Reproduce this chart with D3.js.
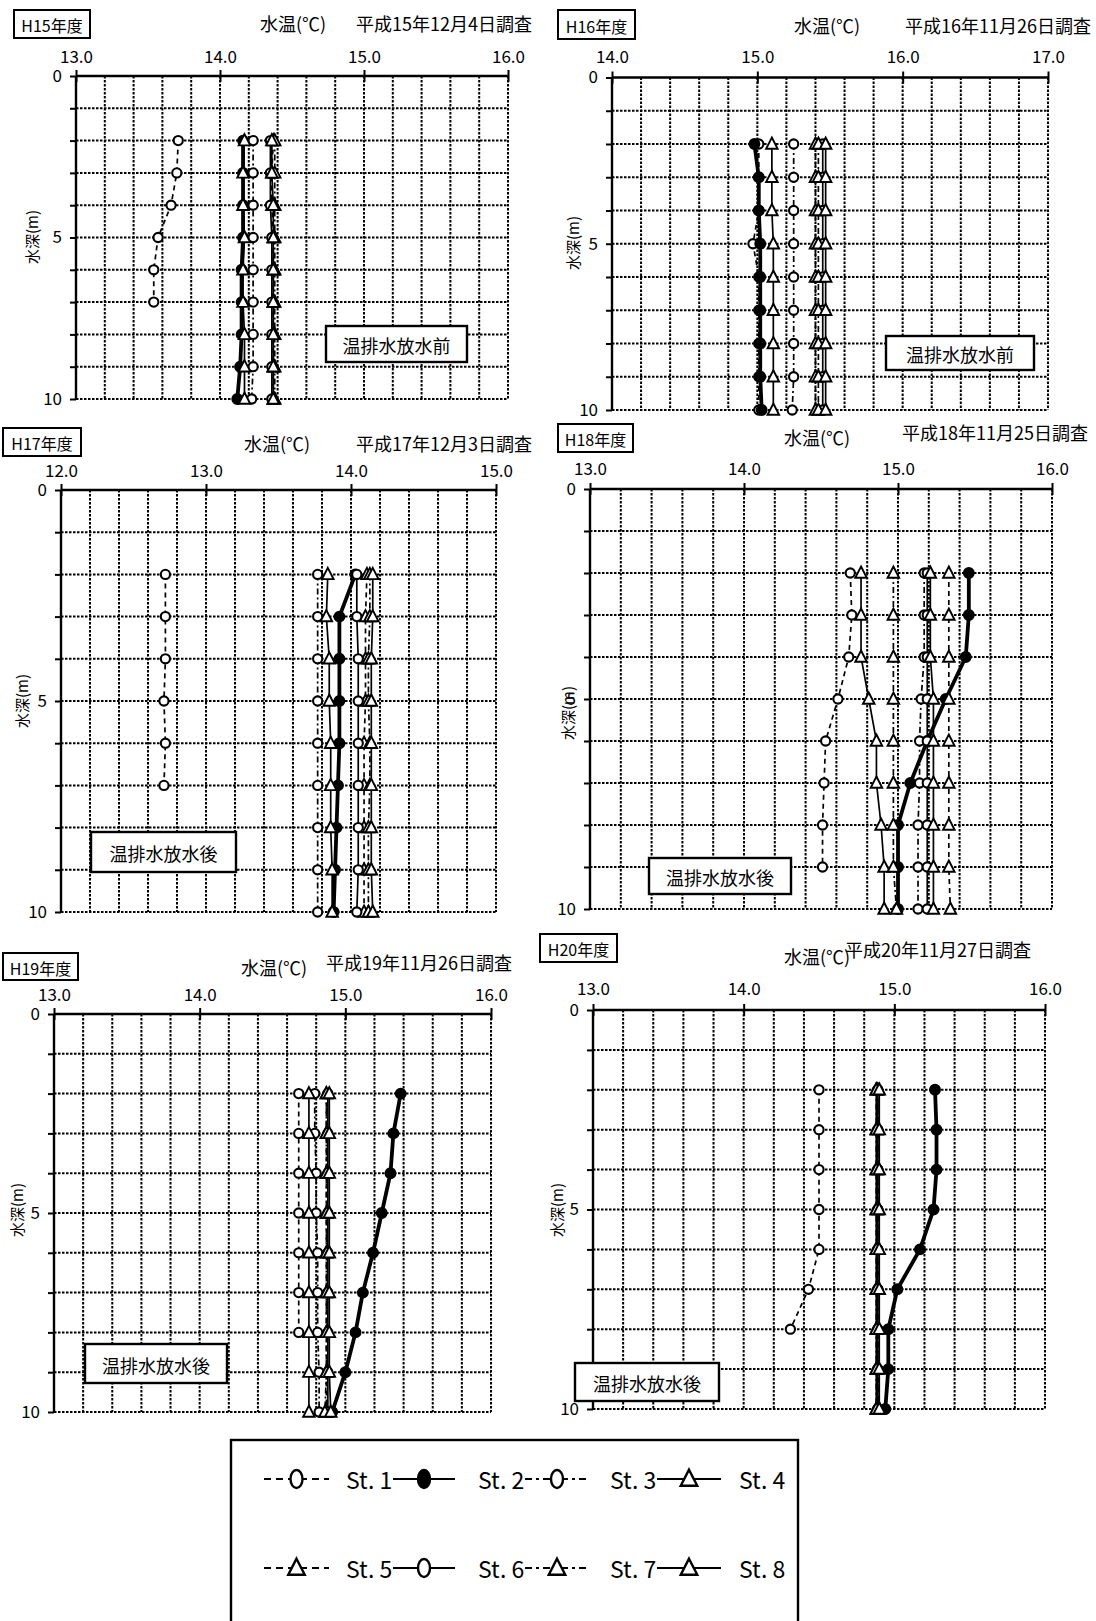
<!DOCTYPE html>
<html><head><meta charset="utf-8">
<script src="https://cdn.jsdelivr.net/npm/d3@7"></script>
<style>
body{margin:0;background:#fff;}
svg{display:block;}
text{font-family:"Noto Sans CJK JP","Noto Sans",sans-serif;fill:#000;}
</style></head><body>
<svg id="c" width="1096" height="1621"></svg>
<script>
// ---------------- data ----------------
const stationNames = ["St. 1","St. 2","St. 3","St. 4","St. 5","St. 6","St. 7","St. 8"];
const depthLevels = [2,3,4,5,6,7,8,9,10];           // m
const depthTicks = [0,5,10];
const yearLabels = ["H15年度","H16年度","H17年度","H18年度","H19年度","H20年度"];
const surveyDates = ["平成15年12月4日調査","平成16年11月26日調査","平成17年12月3日調査",
                     "平成18年11月25日調査","平成19年11月26日調査","平成20年11月27日調査"];
const noteLabels = ["温排水放水前","温排水放水前","温排水放水後","温排水放水後","温排水放水後","温排水放水後"];
const tempMin = [13,14,12,13,13,13];   // x-axis start (°C); each axis spans 3.0 °C
const axisTitle = "水温(℃)";
const depthTitle = "水深(m)";

// water temperature (°C) per station, from depth 2 m downward
const H15 = [
  [13.71,13.70,13.66,13.57,13.54,13.54],
  [14.16,14.16,14.16,14.16,14.15,14.15,14.15,14.14,14.12],
  [14.23,14.23,14.23,14.23,14.23,14.23,14.23,14.23,14.22],
  [14.17,14.16,14.16,14.17,14.16,14.16,14.17,14.17,14.17],
  [14.37,14.36,14.36,14.37,14.37,14.37,14.37,14.37,14.37],
  [14.35,14.35,14.35,14.36,14.36,14.36,14.36,14.36,14.36],
  [14.38,14.38,14.38,14.38,14.38,14.38,14.38,14.38,14.38],
  [14.36,14.36,14.37,14.37,14.37,14.37,14.37,14.37,14.37]
];
const H16 = [
  [15.01,15.01,15.01,14.97,15.01,15.01,15.01,15.01,15.01],
  [14.98,15.01,15.01,15.02,15.02,15.02,15.02,15.02,15.03],
  [15.25,15.25,15.25,15.25,15.25,15.25,15.25,15.25,15.24],
  [15.10,15.10,15.10,15.11,15.11,15.11,15.11,15.11,15.11],
  [15.40,15.40,15.40,15.40,15.40,15.40,15.40,15.40,15.40],
  [15.45,15.45,15.45,15.45,15.45,15.45,15.45,15.45,15.45],
  [15.42,15.42,15.42,15.42,15.42,15.42,15.42,15.42,15.42],
  [15.47,15.47,15.47,15.47,15.47,15.47,15.47,15.47,15.47]
];
const H17 = [
  [12.72,12.72,12.72,12.71,12.72,12.71],
  [14.03,13.92,13.92,13.92,13.92,13.91,13.90,13.89,13.88],
  [13.77,13.77,13.77,13.77,13.77,13.77,13.77,13.77,13.77],
  [13.84,13.83,13.85,13.85,13.86,13.86,13.86,13.87,13.87],
  [14.11,14.10,14.10,14.10,14.09,14.09,14.09,14.09,14.09],
  [14.04,14.04,14.05,14.05,14.05,14.05,14.05,14.05,14.04],
  [14.13,14.13,14.12,14.12,14.13,14.13,14.12,14.12,14.12],
  [14.15,14.15,14.14,14.14,14.14,14.14,14.14,14.14,14.15]
];
const H18 = [
  [14.69,14.70,14.68,14.61,14.53,14.52,14.51,14.51],
  [15.46,15.46,15.44,15.31,15.19,15.08,15.00,15.00,15.00],
  [15.17,15.17,15.17,15.15,15.14,15.14,15.13,15.13,15.13],
  [14.76,14.76,14.76,14.81,14.86,14.86,14.89,14.91,14.91],
  [15.33,15.33,15.33,15.33,15.33,15.33,15.33,15.33,15.34],
  [15.19,15.19,15.19,15.19,15.19,15.19,15.19,15.19,15.19],
  [14.97,14.97,14.97,14.97,14.97,14.97,14.97,14.97,14.99],
  [15.21,15.21,15.21,15.23,15.23,15.23,15.23,15.23,15.23]
];
const H19 = [
  [14.68,14.68,14.68,14.68,14.68,14.68,14.68],
  [15.38,15.33,15.31,15.25,15.19,15.12,15.07,15.00,14.91],
  [14.79,14.79,14.80,14.80,14.81,14.81,14.81,14.82,14.82],
  [14.75,14.75,14.75,14.75,14.75,14.75,14.75,14.75,14.75],
  [14.87,14.87,14.87,14.87,14.87,14.87,14.87,14.87,14.87],
  [14.88,14.88,14.88,14.88,14.88,14.88,14.88,14.88,14.88],
  [14.87,14.87,14.87,14.87,14.87,14.87,14.87,14.87,14.86],
  [14.89,14.89,14.89,14.89,14.89,14.89,14.89,14.89,14.90]
];
const H20 = [
  [14.50,14.50,14.50,14.50,14.50,14.43,14.31],
  [15.27,15.28,15.28,15.26,15.17,15.02,14.96,14.96,14.94],
  [14.89,14.89,14.89,14.89,14.89,14.89,14.89,14.89,14.89],
  [14.88,14.88,14.88,14.88,14.88,14.88,14.88,14.88,14.88],
  [14.89,14.89,14.89,14.89,14.89,14.89,14.89,14.89,14.90],
  [14.89,14.89,14.89,14.89,14.89,14.89,14.89,14.89,14.89],
  [14.88,14.88,14.88,14.88,14.88,14.88,14.88,14.88,14.88],
  [14.90,14.90,14.90,14.90,14.90,14.90,14.90,14.90,14.90]
];
const panelData = [H15,H16,H17,H18,H19,H20];

// ---------------- styles (not data) ----------------
const stationStyle = [
  {marker:"circle",   fill:"#fff", width:1.7, dash:"5,4"},
  {marker:"circle",   fill:"#000", width:3.8, dash:null},
  {marker:"circle",   fill:"#fff", width:1.7, dash:"6,3,2,3"},
  {marker:"triangle", fill:"#fff", width:1.7, dash:null},
  {marker:"triangle", fill:"#fff", width:1.7, dash:"5,4"},
  {marker:"circle",   fill:"#fff", width:1.7, dash:null},
  {marker:"triangle", fill:"#fff", width:1.7, dash:"6,3,2,3"},
  {marker:"triangle", fill:"#fff", width:1.7, dash:null}
];

// ---------------- layout (pixel positions) ----------------
const layout = [
  {x0:76, x1:508, y0:76,  y1:399,  box:[14,10,76,28],  tX:293, tY:23,  dX:532,  dY:23,  tickY:55,  note:[326,326,141,36], yl:[31,237]},
  {x0:612,x1:1048,y0:77.5,y1:410,  box:[558,10,77,29], tX:827, tY:25,  dX:1091, dY:25,  tickY:55,  note:[886,336,148,34], yl:[572,243]},
  {x0:61, x1:496, y0:490, y1:912,  box:[3,428,78,28],  tX:277, tY:443, dX:532,  dY:443, tickY:469, note:[91,832,145,40],  yl:[21,701]},
  {x0:590,x1:1052,y0:489, y1:909,  box:[558,424,75,28],tX:817, tY:437, dX:1088, dY:432, tickY:467, note:[649,858,142,36], yl:[567,713]},
  {x0:54, x1:491, y0:1014,y1:1412, box:[3,953,75,27],  tX:274, tY:967, dX:512,  dY:962, tickY:993, note:[85,1344,142,39], yl:[16,1210]},
  {x0:593,x1:1045,y0:1010,y1:1409, box:[540,934,77,28],tX:817, tY:956, dX:1031, dY:949, tickY:987, note:[575,1363,144,38], yl:[556,1210]}
];

const svg = d3.select("#c");
svg.append("rect").attr("width",1096).attr("height",1621).attr("fill","#fff");

const triPath = (s)=>`M0,${-s*0.62}L${s*0.55},${s*0.45}L${-s*0.55},${s*0.45}Z`;

function drawMarker(g, st, x, y, big){
  const sty = stationStyle[st];
  if (sty.marker==="circle"){
    if (big) g.append("ellipse").attr("cx",x).attr("cy",y).attr("rx",6).attr("ry",9)
      .attr("fill",sty.fill).attr("stroke","#000").attr("stroke-width",2.4);
    else g.append("circle").attr("cx",x).attr("cy",y).attr("r",st===1?4.9:4.6)
      .attr("fill",sty.fill).attr("stroke","#000").attr("stroke-width",2.1);
  } else {
    g.append("path").attr("d",triPath(big?15:10.5)).attr("transform",`translate(${x},${y})`)
      .attr("fill","#fff").attr("stroke","#000").attr("stroke-width",big?2.4:1.9);
  }
}

layout.forEach((L,pi)=>{
  const g = svg.append("g");
  const x = d3.scaleLinear().domain([tempMin[pi], tempMin[pi]+3]).range([L.x0, L.x1]);
  const y = d3.scaleLinear().domain([0,10]).range([L.y0, L.y1]);

  // grid
  const vGrid = d3.range(1,16).map(i=>tempMin[pi]+i*0.2);
  g.selectAll(".vg").data(vGrid).join("line")
    .attr("x1",d=>x(d)).attr("x2",d=>x(d)).attr("y1",y(0)).attr("y2",y(10))
    .attr("stroke","#000").attr("stroke-width",2).attr("stroke-dasharray","2.5,1.5");
  g.selectAll(".hg").data(d3.range(1,11)).join("line")
    .attr("x1",x.range()[0]).attr("x2",x.range()[1]).attr("y1",d=>y(d)).attr("y2",d=>y(d))
    .attr("stroke","#000").attr("stroke-width",2).attr("stroke-dasharray","2.5,1.5");

  // top axis
  const xa = d3.axisTop(x).tickValues(d3.range(0,4).map(i=>tempMin[pi]+i))
    .tickFormat(d3.format(".1f")).tickSize(5).tickPadding(12);
  const ax = g.append("g").attr("transform",`translate(0,${L.y0})`).call(xa);
  ax.select(".domain").attr("stroke","#000").attr("stroke-width",2.4).attr("d",`M${L.x0},0H${L.x1}`);
  ax.selectAll(".tick line").attr("y1",6).attr("y2",-6).attr("stroke-width",2);
  ax.selectAll(".tick text").attr("y",null).attr("dy",null)
    .attr("transform",`translate(0,${L.tickY-L.y0})`).attr("dominant-baseline","central")
    .style("font-size","17px").style("font-family","'Noto Sans CJK JP'");

  // left axis
  const ya = d3.axisLeft(y).tickValues(d3.range(0,11)).tickSize(6)
    .tickFormat(d=>depthTicks.includes(d)?String(d):"").tickPadding(8);
  const ay = g.append("g").attr("transform",`translate(${L.x0},0)`).call(ya);
  ay.select(".domain").attr("stroke","#000").attr("stroke-width",2.4).attr("d",`M0,${L.y0}V${L.y1}`);
  ay.selectAll(".tick line").attr("stroke-width",2);
  ay.selectAll(".tick text").style("font-size","17px").style("font-family","'Noto Sans CJK JP'");

  // axis titles and labels
  g.append("text").attr("x",L.tX).attr("y",L.tY).attr("text-anchor","middle").attr("dominant-baseline","central")
    .style("font-size","18px").text(axisTitle);
  g.append("text").attr("x",L.dX).attr("y",L.dY).attr("text-anchor","end").attr("dominant-baseline","central")
    .style("font-size","18px").text(surveyDates[pi]);
  g.append("text").attr("transform",`translate(${L.yl[0]},${L.yl[1]}) rotate(-90)`)
    .attr("text-anchor","middle").attr("dominant-baseline","central").style("font-size","15px").text(depthTitle);
  g.append("rect").attr("x",L.box[0]).attr("y",L.box[1]).attr("width",L.box[2]).attr("height",L.box[3])
    .attr("fill","#fff").attr("stroke","#000").attr("stroke-width",2);
  g.append("text").attr("x",L.box[0]+L.box[2]/2).attr("y",L.box[1]+L.box[3]/2+1)
    .attr("text-anchor","middle").attr("dominant-baseline","central").style("font-size","16px").text(yearLabels[pi]);

  // series
  const series = panelData[pi];
  const line = d3.line().x(d=>x(d[1])).y(d=>y(d[0]));
  series.forEach((vals,si)=>{
    const pts = vals.map((v,i)=>[depthLevels[i], v]);
    const sty = stationStyle[si];
    g.append("path").attr("d",line(pts)).attr("fill","none").attr("stroke","#000")
      .attr("stroke-width",sty.width).attr("stroke-dasharray",sty.dash);
  });
  series.forEach((vals,si)=>{
    vals.forEach((v,i)=>drawMarker(g, si, x(v), y(depthLevels[i]), false));
  });

  // note box
  g.append("rect").attr("x",L.note[0]).attr("y",L.note[1]).attr("width",L.note[2]).attr("height",L.note[3])
    .attr("fill","#fff").attr("stroke","#000").attr("stroke-width",2.4);
  g.append("text").attr("x",L.note[0]+L.note[2]/2).attr("y",L.note[1]+L.note[3]/2+1)
    .attr("text-anchor","middle").attr("dominant-baseline","central").style("font-size","18px").text(noteLabels[pi]);
});

// legend
const lg = svg.append("g");
lg.append("rect").attr("x",231).attr("y",1440).attr("width",567).attr("height",200)
  .attr("fill","#fff").attr("stroke","#000").attr("stroke-width",2.4);
const legendRowY = [1479, 1568];
const legendSampleX = [[264,329],[393,455],[525,589],[657,721]];
const legendTextX = [346,478,610,739];
stationNames.forEach((name,si)=>{
  const row = Math.floor(si/4), col = si%4;
  const cy = legendRowY[row];
  const [a,b] = legendSampleX[col];
  const sty = stationStyle[si];
  lg.append("line").attr("x1",a).attr("x2",b).attr("y1",cy).attr("y2",cy)
    .attr("stroke","#000").attr("stroke-width",2.2)
    .attr("stroke-dasharray", sty.dash ? (sty.dash==="5,4"?"7,5":"7,4,3,4") : null);
  drawMarker(lg, si, (a+b)/2, cy, true);
  lg.append("text").attr("x",legendTextX[col]).attr("y",cy).attr("dominant-baseline","central")
    .style("font-size","23px").style("font-family","'Noto Sans CJK JP'").text(name);
});
</script>
</body></html>
